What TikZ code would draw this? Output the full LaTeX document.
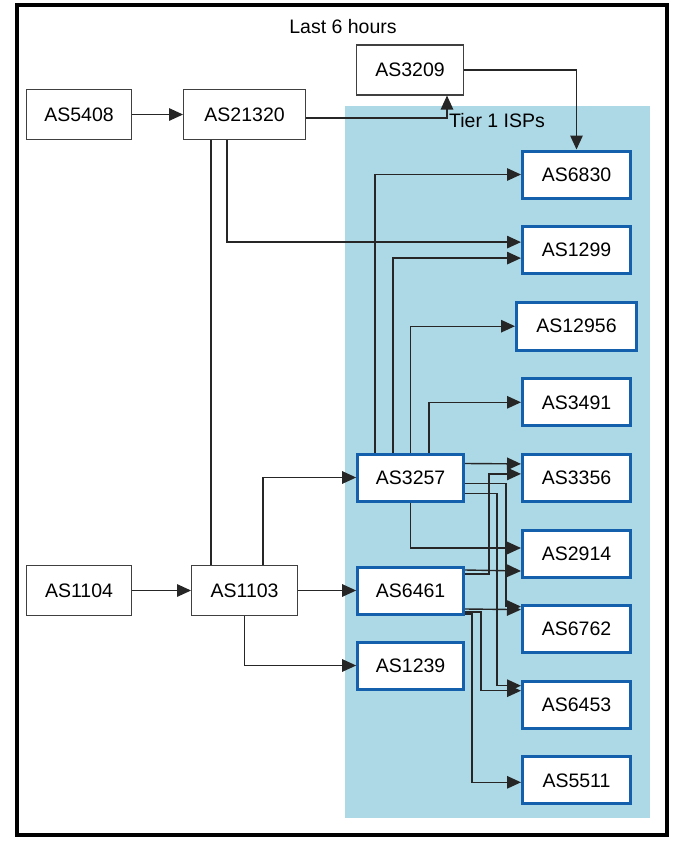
\documentclass[tikz,border=0pt]{standalone}
\usepackage{fontspec}
\setmainfont{Liberation Sans}
\usepackage{xcolor}
\usetikzlibrary{arrows.meta,positioning}
\definecolor{tierblue}{RGB}{20,96,172}
\definecolor{tierfill}{RGB}{173,216,230}

\begin{document}
\begin{tikzpicture}[
  x=1pt, y=-1pt,
  node distance=25.6pt and 55pt,
  asbox/.style={draw=black!75, fill=white, line width=1.1pt, minimum width=105pt,
                minimum height=50pt, inner sep=0pt, font=\fontsize{19.5}{22}\selectfont},
  tier/.style={draw=tierblue, fill=white, line width=3pt, minimum width=106pt,
               minimum height=47pt, inner sep=0pt, font=\fontsize{19.5}{22}\selectfont},
  label/.style={font=\fontsize{19.5}{22}\selectfont, inner sep=0pt},
  arrow/.style={-{Triangle[length=14pt,width=12.5pt]}, line width=1.4pt, draw=black!85},
  link/.style={line width=1.4pt, draw=black!85}
]
\useasboundingbox (0,0) rectangle (675,841);
\draw[line width=3.5pt] (17,5) rectangle (667,835);
\fill[tierfill] (345,106) rectangle (650,818);

\node[label] (last) at (343,27) {Last 6 hours};
\node[label] (isps) at (497,121) {Tier 1 ISPs};

% left side
\node[asbox] (as5408) at (79,114.5) {AS5408};
\node[asbox, minimum width=122pt, right=51pt of as5408] (as21320) {AS21320};
\node[asbox, minimum width=107pt] (as3209) at (410,70) {AS3209};
\node[asbox] (as1104) at (79,590.5) {AS1104};
\node[asbox, minimum width=106pt, right=59pt of as1104] (as1103) {AS1103};

% peers inside
\node[tier, right=58pt of as1103] (as6461) {AS6461};
\node[tier, above=63pt of as6461] (as3257) {AS3257};
\node[tier, below=25pt of as6461] (as1239) {AS1239};

% tier 1 column
\node[tier, minimum width=108pt] (as6830) at (576.5,174.5) {AS6830};
\node[tier, minimum width=108pt, below=of as6830] (as1299) {AS1299};
\node[tier, minimum width=120pt, minimum height=48pt, below=of as1299] (as12956) {AS12956};
\node[tier, minimum width=108pt, below=of as12956] (as3491) {AS3491};
\node[tier, minimum width=108pt, below=of as3491] (as3356) {AS3356};
\node[tier, minimum width=108pt, below=of as3356] (as2914) {AS2914};
\node[tier, minimum width=108pt, below=of as2914] (as6762) {AS6762};
\node[tier, minimum width=108pt, below=of as6762] (as6453) {AS6453};
\node[tier, minimum width=108pt, below=of as6453] (as5511) {AS5511};

\draw[arrow] (as5408) -- (as21320);
\draw[arrow] ([yshift=-3.5pt]as21320.east) -| ([xshift=37pt]as3209.south);
\draw[arrow] (as3209.east) -| (as6830.north);
\draw[arrow] ([xshift=-17.5pt]as21320.south) |- ([yshift=8pt]as1299.west);
\draw[link] ([xshift=-33.5pt]as21320.south) -- ([xshift=-33.5pt]as1103.north);
\draw[arrow] (as1104) -- (as1103);
\draw[arrow] ([xshift=18.5pt]as1103.north) |- (as3257);
\draw[arrow] (as1103) -- (as6461);
\draw[arrow] (as1103.south) |- (as1239);

\draw[arrow] ([xshift=-35.5pt]as3257.north) |- (as6830);
\draw[arrow] ([xshift=-17.5pt]as3257.north) |- ([yshift=-8pt]as1299.west);
\draw[arrow] (as3257.north) |- (as12956);
\draw[arrow] ([xshift=18.5pt]as3257.north) |- (as3491);
\draw[arrow] ([yshift=14pt]as3257.east) -- ([yshift=14pt]as3356.west);
\draw[arrow] (as3257.south) |- ([yshift=5.5pt]as2914.west);
\draw[arrow] ([yshift=-6pt]as3257.east) -- ++(41pt,0pt) |- ([yshift=22.5pt]as6762.west);
\draw[arrow] ([yshift=-16pt]as3257.east) -- ++(32pt,0pt) |- ([yshift=19pt]as6453.west);

\draw[arrow] ([yshift=16.5pt]as6461.east) -- ++(24pt,0pt) |- ([yshift=4pt]as3356.west);
\draw[arrow] ([yshift=20.5pt]as6461.east) -- ([yshift=-17.5pt]as2914.west);
\draw[arrow] ([yshift=-18.5pt]as6461.east) -- ([yshift=19.5pt]as6762.west);
\draw[arrow] ([yshift=-21.5pt]as6461.east) -- ++(16pt,0pt) |- ([yshift=14pt]as6453.west);
\draw[arrow] ([yshift=-23.5pt]as6461.east) -- ++(7pt,0pt) |- ([yshift=-2pt]as5511.west);
\end{tikzpicture}
\end{document}
